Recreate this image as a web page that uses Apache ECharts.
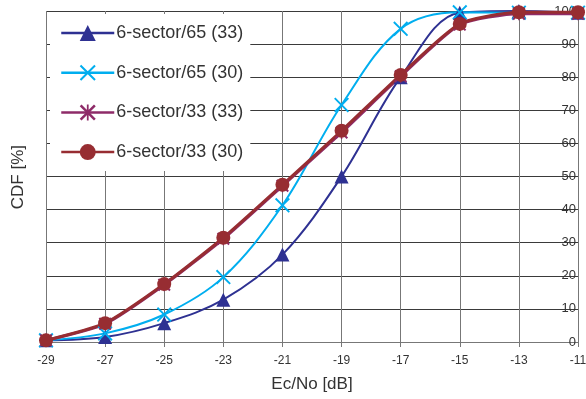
<!DOCTYPE html>
<html>
<head>
<meta charset="utf-8">
<script src="https://cdn.jsdelivr.net/npm/echarts@6/dist/echarts.min.js"></script>
<style>html,body{margin:0;padding:0;background:#fff}#c{width:586px;height:399px}</style>
</head>
<body>
<div id="c"></div>
<script>
const categories = ['-29','-27','-25','-23','-21','-19','-17','-15','-13','-11'];
const yTicks = [0,10,20,30,40,50,60,70,80,90,100];
const names = ['6-sector/65 (33)','6-sector/65 (30)','6-sector/33 (33)','6-sector/33 (30)'];
const s65_33 = [0.5, 1.5, 5.7, 12.8, 26.4, 50, 80, 99.5, 100, 99.5];
const s65_30 = [0.5, 2.6, 8.3, 19.6, 41.3, 71.6, 94.6, 99.6, 99.5, 99.5];
const s33_33 = [0.5, 5.5, 17.3, 31.2, 47.2, 63.3, 80.3, 95.9, 99.2, 99.2];
const s33_30 = [0.5, 5.7, 17.5, 31.5, 47.5, 63.8, 80.7, 96.1, 99.6, 99.6];

const X_PATH = 'path://M0,1.8L1.8,0L10,8.2L18.2,0L20,1.8L11.8,10L20,18.2L18.2,20L10,11.8L1.8,20L0,18.2L8.2,10Z';
const STAR_PATH = 'path://M0,2.2L2.2,0L10,7.8L17.8,0L20,2.2L12.2,10L20,17.8L17.8,20L10,12.2L2.2,20L0,17.8L7.8,10Z M8.9,0L11.1,0L11.1,20L8.9,20Z';

const chart = echarts.init(document.getElementById('c'), null, {renderer:'canvas'});
const FONT = 'Liberation Sans, Arial, sans-serif';
function mk(name, data, color, symbol, size, width, smooth) {
  return {
    name, type:'line', data, smooth, symbol, symbolSize:size,
    lineStyle:{color, width}, itemStyle:{color},
    emphasis:{disabled:true}
  };
}
chart.setOption({
  animation:false,
  textStyle:{fontFamily:FONT},
  grid:{left:46,right:8,top:11,bottom:57,containLabel:false,outerBoundsMode:'none'},
  legend:{
    orient:'vertical', left:50, top:14,
    padding:[10,7,10,10], backgroundColor:'#fff',
    itemWidth:53, itemHeight:20, itemGap:21.7,
    lineStyle:{width:2.5},
    textStyle:{fontSize:18, color:'#333', fontFamily:FONT, padding:[0,0,0,-3]},
    data: names
  },
  xAxis:{
    type:'category', data:categories, boundaryGap:false,
    axisLine:{lineStyle:{color:'#777', width:1}},
    axisTick:{show:true, length:5, lineStyle:{color:'#777'}},
    axisLabel:{fontSize:12, color:'#333', margin:13},
    splitLine:{show:true, lineStyle:{color:'#777', width:1}},
    name:'Ec/No [dB]', nameLocation:'middle', nameGap:34,
    nameTextStyle:{fontSize:17, color:'#333'}
  },
  yAxis:{
    type:'value', min:0, max:100, interval:10, position:'right',
    axisLine:{show:false}, axisTick:{show:false},
    axisLabel:{inside:true, fontSize:13, color:'#333', margin:2},
    splitLine:{show:true, lineStyle:{color:'#3a3a3a', width:1}}
  },
  graphic:[{
    type:'text', left:10, top:145, rotation:Math.PI/2,
    style:{text:'CDF [%]', fontSize:17, fill:'#333', fontFamily:FONT}
  }],
  series:[
    mk(names[0], s65_33, '#2e3192', 'triangle', 14, 2, 0.35),
    mk(names[1], s65_30, '#00aeef', X_PATH, 15, 2, 0.35),
    mk(names[2], s33_33, '#8e2b68', STAR_PATH, 13, 3, 0.2),
    mk(names[3], s33_30, '#972d32', 'circle', 14, 3, 0.2)
  ]
});
</script>
</body>
</html>
